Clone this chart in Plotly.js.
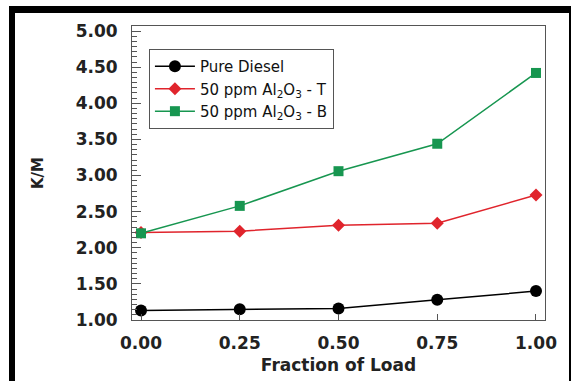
<!DOCTYPE html>
<html>
<head>
<meta charset="utf-8">
<script src="https://cdn.plot.ly/plotly-3.0.1.min.js"></script>
<style>
  html, body { margin: 0; padding: 0; background: #fff; }
  #wrap { position: relative; width: 571px; height: 381px; overflow: hidden; }
  #chart { position: absolute; left: 0; top: 0; width: 571px; height: 381px; }
  #frame { position: absolute; left: 9px; top: 6px; width: 554px; height: 400px;
           border-left: 6px solid #000; border-top: 7px solid #000; border-right: 8px solid #000;
           pointer-events: none; }
</style>
</head>
<body>
<div id="wrap">
  <div id="chart"></div>
  <div id="frame"></div>
</div>
<script>
// Data
const loadFraction = [0.00, 0.25, 0.50, 0.75, 1.00];
const pureDiesel   = [1.13, 1.15, 1.16, 1.28, 1.40];
const al2o3T       = [2.21, 2.23, 2.31, 2.34, 2.73];
const al2o3B       = [2.20, 2.58, 3.06, 3.44, 4.42];
const seriesNames  = ['Pure Diesel', '50 ppm Al<sub>2</sub>O<sub>3</sub> - T', '50 ppm Al<sub>2</sub>O<sub>3</sub> - B'];
const xTickVals    = [0, 0.25, 0.5, 0.75, 1];
const xTickText    = ['0.00', '0.25', '0.50', '0.75', '1.00'];
const yTickVals    = [1, 1.5, 2, 2.5, 3, 3.5, 4, 4.5, 5];
const yTickText    = ['1.00', '1.50', '2.00', '2.50', '3.00', '3.50', '4.00', '4.50', '5.00'];

const traces = [
  { x: loadFraction, y: pureDiesel, name: seriesNames[0], mode: 'lines+markers',
    line: { color: '#000000', width: 1.5 },
    marker: { symbol: 'circle', size: 12, color: '#000000' } },
  { x: loadFraction, y: al2o3T, name: seriesNames[1], mode: 'lines+markers',
    line: { color: '#e0242c', width: 1.5 },
    marker: { symbol: 'diamond', size: 10, color: '#e0242c' } },
  { x: loadFraction, y: al2o3B, name: seriesNames[2], mode: 'lines+markers',
    line: { color: '#179650', width: 1.5 },
    marker: { symbol: 'square', size: 10, color: '#179650' } }
];

const tickFont = { family: 'DejaVu Sans', size: 17, color: '#222', weight: 'bold' };

const layout = {
  width: 571, height: 381,
  margin: { l: 132, r: 26, t: 26, b: 61 },
  paper_bgcolor: '#fff', plot_bgcolor: '#fff',
  showlegend: true,
  legend: {
    x: 0.041, y: 0.922, xanchor: 'left', yanchor: 'top',
    bordercolor: '#555', borderwidth: 1, bgcolor: '#fff',
    font: { family: 'DejaVu Sans', size: 15, color: '#111' },
    itemwidth: 40,
    tracegroupgap: 0
  },
  xaxis: {
    range: [-0.0228, 1.0228],
    tickvals: xTickVals, ticktext: xTickText,
    ticks: 'inside', ticklen: 6, tickwidth: 1, tickcolor: '#555',
    showline: true, linecolor: '#555', linewidth: 1, mirror: true,
    showgrid: false, zeroline: false,
    tickfont: tickFont, ticklabelstandoff: 8,
    title: { text: '<b>Fraction of Load</b>', font: { family: 'DejaVu Sans', size: 17, color: '#222' }, standoff: 6 }
  },
  yaxis: {
    range: [1.0, 5.07],
    tickvals: yTickVals, ticktext: yTickText,
    ticks: 'inside', ticklen: 9, tickwidth: 1, tickcolor: '#555',
    minor: { ticks: 'inside', ticklen: 5, dtick: 0.5 / 7, tick0: 1, tickcolor: '#555', showgrid: false },
    showline: true, linecolor: '#555', linewidth: 1, mirror: true,
    showgrid: false, zeroline: false,
    tickfont: tickFont, ticklabelstandoff: 10,
    title: { text: '<b>K/M</b>', font: { family: 'DejaVu Sans', size: 15, color: '#222' }, standoff: 28 }
  }
};

Plotly.newPlot('chart', traces, layout, { staticPlot: true, displayModeBar: false });
</script>
</body>
</html>
